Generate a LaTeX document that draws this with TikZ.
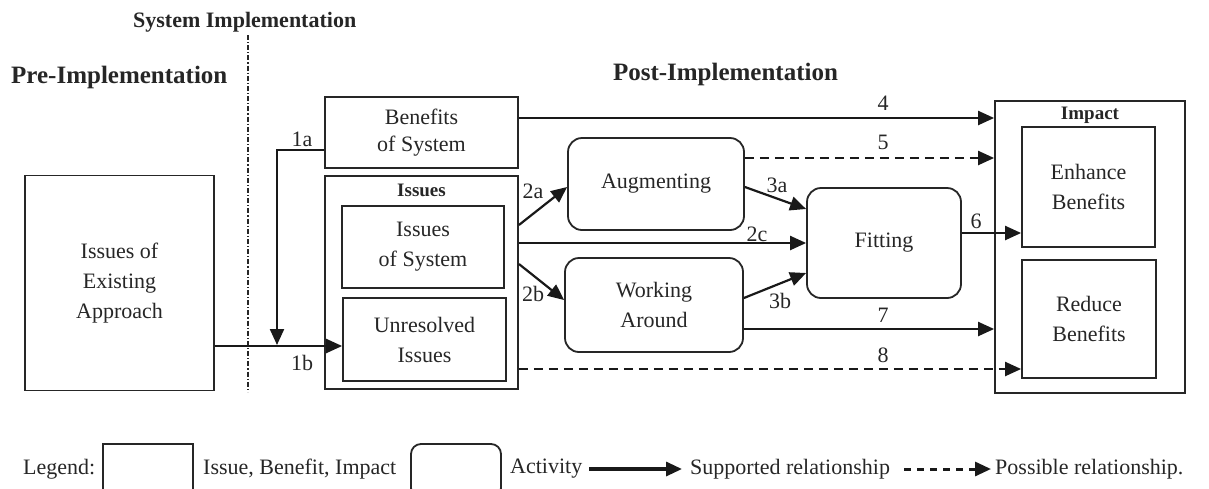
\documentclass[tikz,border=0pt]{standalone}
\usepackage{fontspec}
\setmainfont{Liberation Serif}
\usetikzlibrary{arrows.meta}
\begin{document}
\begin{tikzpicture}[x=1pt,y=-1pt,
  every node/.style={font=\fontsize{22}{30}\selectfont, text=black!85, align=center, inner sep=0pt},
  box/.style={draw=black!85, line width=1.8pt, rectangle},
  act/.style={box, rounded corners=14pt},
  arr/.style={draw=black!90, line width=2.2pt, -{Triangle[length=16pt 0 0,width=14pt 0 0]}},
  darr/.style={arr, dash pattern=on 9pt off 6pt},
  num/.style={font=\fontsize{22}{26}\selectfont},
  head/.style={font=\bfseries\fontsize{25}{30}\selectfont},
  tag/.style={font=\bfseries\fontsize{19}{22}\selectfont},
]
\useasboundingbox (0,0) rectangle (1209,488);
\clip (0,0) rectangle (1209,488);

% phase headings and divider
\node[font=\bfseries\fontsize{22}{26}\selectfont, anchor=west] (sysh) at (133,22) {System Implementation};
\node[head, anchor=west] (preh) at (11,77) {Pre-Implementation};
\node[head] (posth) at (725.5,74) {Post-Implementation};
\coordinate (divtop) at (248,35);
\coordinate (divbot) at (248,392);
\draw[black!85, line width=1.3pt, dash pattern=on 5pt off 2pt on 1.2pt off 2pt] (divtop) -- (divbot);

% pre-implementation
\node[box, minimum width=189pt, minimum height=215pt] (pre) at (119.5,283) {Issues of\\Existing\\Approach};

% benefits and issues of the system
\node[box, minimum width=193pt, minimum height=71pt, font=\fontsize{22}{27}\selectfont] (ben) at (421.5,132.5) {Benefits\\of System};
\node[box, minimum width=193pt, minimum height=213pt] (issues) at (421.5,282.5) {};
\node[tag] (issuestag) at (421.5,190) {Issues};
\node[box, minimum width=162pt, minimum height=82pt] (issys) at (423,247) {Issues\\of System};
\node[box, minimum width=163pt, minimum height=83pt] (unres) at (424.5,339.5) {Unresolved\\Issues};

% activities
\node[act, minimum width=176pt, minimum height=92pt] (aug) at (656,184) {Augmenting};
\node[act, minimum width=178pt, minimum height=94pt] (work) at (654,305) {Working\\Around};
\node[act, minimum width=154pt, minimum height=110pt] (fit) at (884,243) {Fitting};

% impact
\node[box, minimum width=190pt, minimum height=292pt] (impact) at (1090,247) {};
\node[tag] (impacttag) at (1090,115) {Impact};
\node[box, minimum width=133pt, minimum height=120pt] (enh) at (1088.5,187) {Enhance\\Benefits};
\node[box, minimum width=134pt, minimum height=118pt] (red) at (1089,319) {Reduce\\Benefits};

% relationship 1a / 1b
\coordinate (j1) at (277,345);
\draw[arr] (ben.west |- 0,150) -| (j1);
\draw[arr] (pre.east |- 0,346) -- (unres.west |- 0,346);
\node[num] (l1a) at (302,139) {1a};
\node[num] (l1b) at (302,363) {1b};

% relationships 2a, 2b, 2c
\draw[arr] (issues.east |- 0,225) -- (aug.west |- 0,187);
\draw[arr] (issues.east |- 0,264) -- (work.west |- 0,300);
\draw[arr] (issues.east |- 0,243) -- (fit.west);
\node[num] (l2a) at (533,191) {2a};
\node[num] (l2b) at (533,294) {2b};
\node[num] (l2c) at (757,234) {2c};

% relationships 3a, 3b
\draw[arr] (aug.east |- 0,187) -- (fit.west |- 0,209);
\draw[arr] (work.east |- 0,298) -- (fit.west |- 0,273);
\node[num] (l3a) at (777,185) {3a};
\node[num] (l3b) at (780,301) {3b};

% relationships to impact
\draw[arr] (ben.east |- 0,118) -- (impact.west |- 0,118);
\draw[darr] (aug.east |- 0,158) -- (impact.west |- 0,158);
\draw[arr] (fit.east |- 0,233) -- (enh.west |- 0,233);
\draw[arr] (work.east |- 0,329) -- (impact.west |- 0,329);
\draw[darr] (issues.east |- 0,369) -- (red.west |- 0,369);
\node[num] (l4) at (883,103) {4};
\node[num] (l5) at (883,142) {5};
\node[num] (l6) at (976,221) {6};
\node[num] (l7) at (883,315) {7};
\node[num] (l8) at (883,355) {8};

% legend
\node[anchor=west] (lgtxt) at (23,469) {Legend:};
\node[box, minimum width=90pt, minimum height=54pt] (lgbox) at (148,471) {};
\node[anchor=west] (lgboxtxt) at (203,469) {Issue, Benefit, Impact};
\node[act, rounded corners=10pt, minimum width=90pt, minimum height=54pt] (lgact) at (456,471) {};
\node[anchor=west] (lgacttxt) at (510,469) {Activity};
\coordinate (ls1) at (589,469);
\coordinate (ls2) at (682,469);
\draw[arr, line width=3.2pt] (ls1) -- (ls2);
\node[anchor=west] (lgsup) at (690,469) {Supported relationship};
\coordinate (ld1) at (904,469);
\coordinate (ld2) at (991,469);
\draw[darr, line width=3pt, dash pattern=on 7pt off 6pt] (ld1) -- (ld2);
\node[anchor=west] (lgpos) at (995,469) {Possible relationship.};
\end{tikzpicture}
\end{document}
